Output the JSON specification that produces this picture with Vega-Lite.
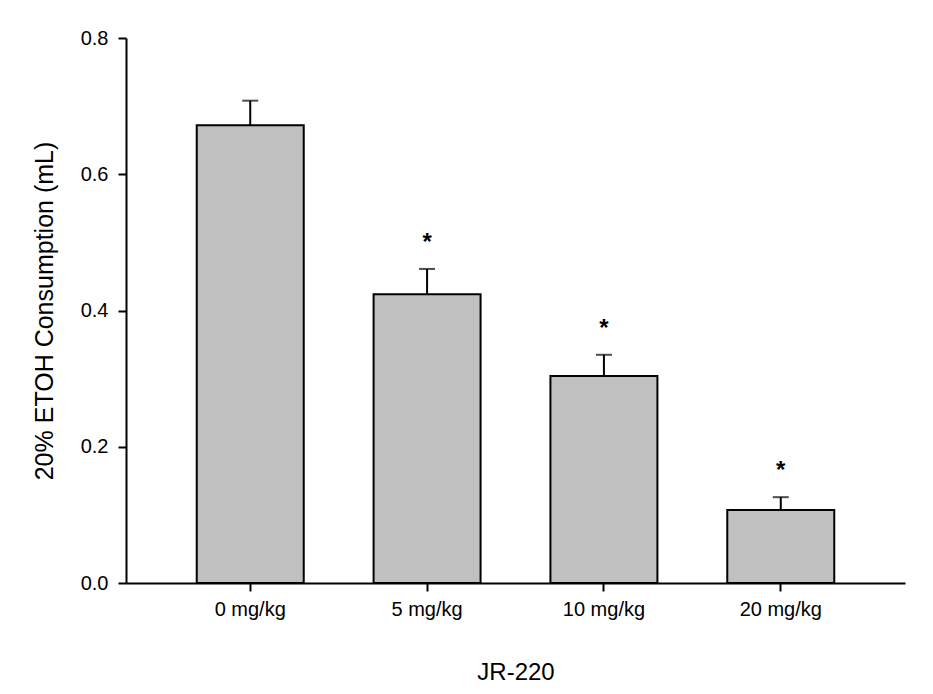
{
  "$schema": "https://vega.github.io/schema/vega-lite/v6.json",
  "width": 779,
  "height": 545,
  "autosize": {"type": "none"},
  "padding": {"left": 126, "top": 38, "right": 28, "bottom": 111},
  "background": "white",
  "config": {"view": {"stroke": null}, "font": "Liberation Sans"},
  "data": {"values": [
    {"dose": "0 mg/kg", "mean": 0.672, "upper": 0.708, "sig": ""},
    {"dose": "5 mg/kg", "mean": 0.424, "upper": 0.461, "sig": "*"},
    {"dose": "10 mg/kg", "mean": 0.304, "upper": 0.335, "sig": "*"},
    {"dose": "20 mg/kg", "mean": 0.107, "upper": 0.126, "sig": "*"}
  ]},
  "encoding": {
    "x": {"field": "dose", "type": "nominal", "sort": null,
      "scale": {"paddingInner": 0.395, "paddingOuter": 0.4},
      "axis": {"title": "JR-220", "labelAngle": 0, "labelFontSize": 20, "labelColor": "#000", "titleFontSize": 24, "titleColor": "#000", "titleFontWeight": "normal", "titlePadding": 41, "domainColor": "#000", "domainWidth": 2, "tickColor": "#000", "tickWidth": 2, "tickSize": 8, "labelPadding": 8}}
  },
  "layer": [
    {
      "mark": {"type": "rule", "stroke": "#000", "strokeWidth": 2},
      "encoding": {
        "y": {"field": "mean", "type": "quantitative"},
        "y2": {"field": "upper"}
      }
    },
    {
      "mark": {"type": "tick", "color": "#000", "size": 16, "thickness": 2, "orient": "horizontal"},
      "encoding": {"y": {"field": "upper", "type": "quantitative"}}
    },
    {
      "mark": {"type": "bar", "fill": "#c0c0c0", "stroke": "#000", "strokeWidth": 2},
      "encoding": {
        "y": {"field": "mean", "type": "quantitative",
          "scale": {"domain": [0, 0.8], "nice": false},
          "axis": {"title": "20% ETOH Consumption (mL)", "values": [0, 0.2, 0.4, 0.6, 0.8], "format": ".1f", "grid": false, "labelFontSize": 20, "labelColor": "#000", "titleFontSize": 25, "titleColor": "#000", "titleFontWeight": "normal", "titlePadding": 23, "domainColor": "#000", "domainWidth": 2, "tickColor": "#000", "tickWidth": 2, "tickSize": 8, "labelPadding": 10}}
      }
    },
    {
      "mark": {"type": "text", "fontSize": 24, "fontWeight": "bold", "dy": -26, "color": "#000"},
      "encoding": {
        "y": {"field": "upper", "type": "quantitative"},
        "text": {"field": "sig"}
      }
    }
  ]
}
